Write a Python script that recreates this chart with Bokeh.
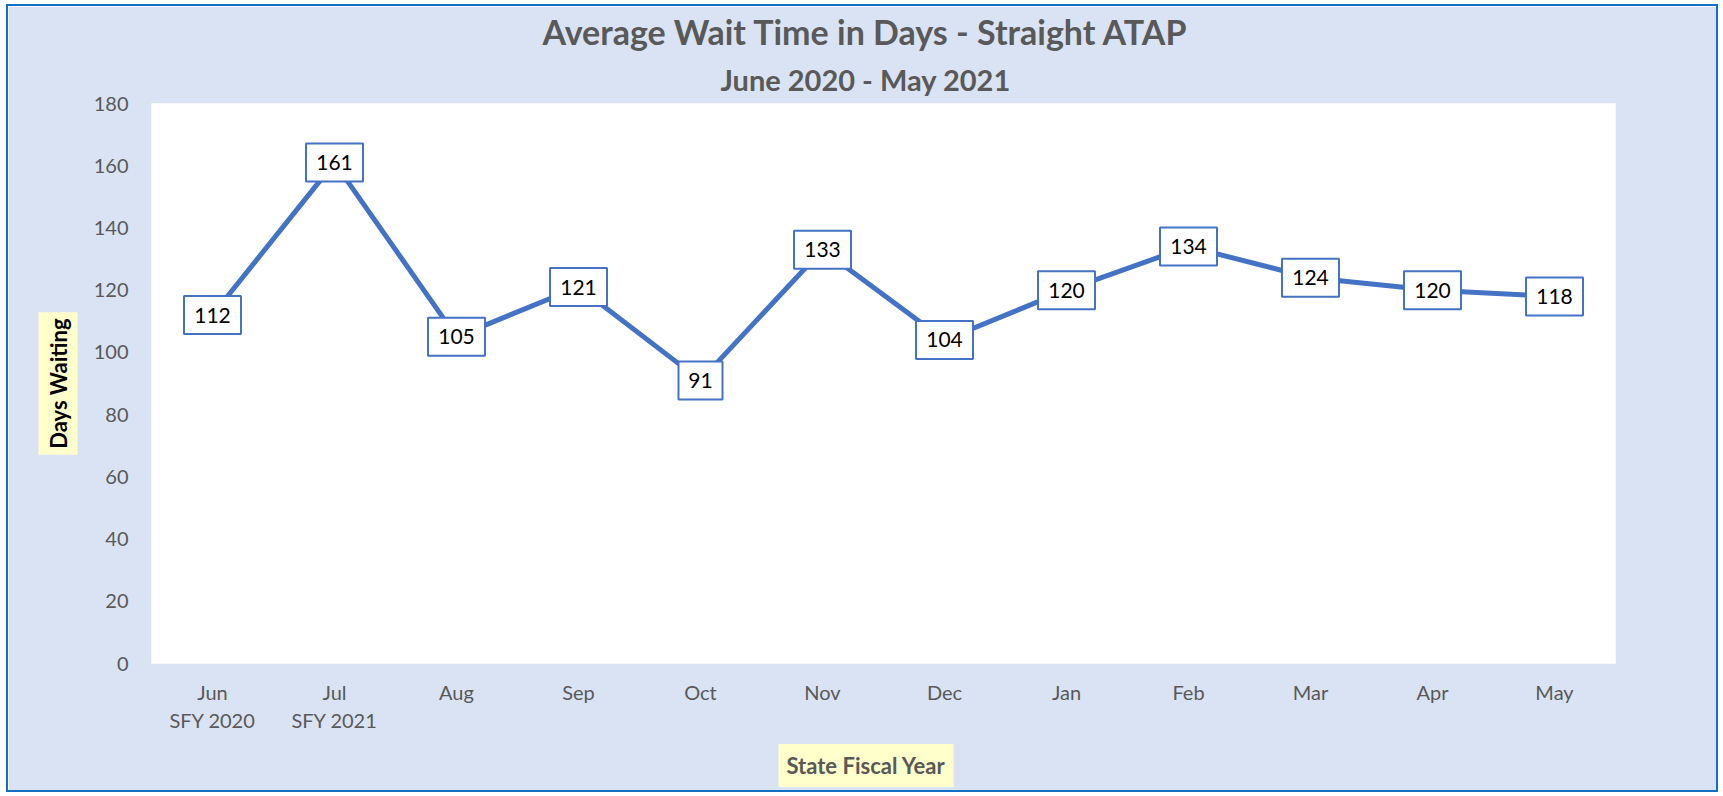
import math
from bokeh.plotting import figure
from bokeh.models import ColumnDataSource, Title, FactorRange, Range1d, FixedTicker
from bokeh.core.properties import value
from bokeh.embed import file_html
from bokeh.resources import INLINE

months = ["Jun", "Jul", "Aug", "Sep", "Oct", "Nov", "Dec", "Jan", "Feb", "Mar", "Apr", "May"]
fiscal_years = ["SFY 2020", "SFY 2021", "", "", "", "", "", "", "", "", "", ""]
wait_days = [112, 161, 105, 121, 91, 133, 104, 120, 134, 124, 120, 118]
y_ticks = [0, 20, 40, 60, 80, 100, 120, 140, 160, 180]

title_text = "Average Wait Time in Days - Straight ATAP"
subtitle_text = "June 2020 - May 2021"
y_title = "Days Waiting"
x_title = "State Fiscal Year"

factors = [m + ("\n" + fy if fy else "") for m, fy in zip(months, fiscal_years)]

BG = "#DAE3F3"
LINE = "#4472C4"
GREY = "#595959"
FONT = "Lato"

label_text = [str(v) for v in wait_days]
source = ColumnDataSource(data=dict(
    x=factors,
    y=wait_days,
    label=label_text,
    box_w=[18 + 13 * len(t) for t in label_text],
))

p = figure(
    width=1712, height=788, title=None,
    x_range=FactorRange(factors=factors, range_padding=0),
    y_range=Range1d(0, 180),
    output_backend="svg", toolbar_location=None,
    min_border_left=143, min_border_right=105, min_border_top=97, min_border_bottom=131,
)
p.styles = {"border": "2px solid #1170C4", "margin": "4px 0px 0px 6px"}
p.background_fill_color = "white"
p.border_fill_color = BG
p.outline_line_color = None
p.xgrid.grid_line_color = None
p.ygrid.grid_line_color = None

p.yaxis.ticker = FixedTicker(ticks=y_ticks)
for ax in (p.xaxis[0], p.yaxis[0]):
    ax.axis_line_color = None
    ax.major_tick_line_color = None
    ax.minor_tick_line_color = None
    ax.major_label_text_font = FONT
    ax.major_label_text_font_size = "20px"
    ax.major_label_text_color = GREY
p.yaxis.major_label_standoff = 17
p.xaxis.major_label_standoff = 10

p.line("x", "y", source=source, line_color=LINE, line_width=5)

p.rect("x", "y", width="box_w", height=38, width_units="screen", height_units="screen",
       source=source, fill_color="white", line_color=LINE, line_width=2)
p.text("x", "y", text="label", source=source, text_align="center", text_baseline="middle",
       text_font=value(FONT), text_font_size="21px", text_color="black")

# Titles (subtitle first: closest to the frame)
p.add_layout(Title(text=subtitle_text, align="left", offset=569, standoff=13,
                   text_font=FONT, text_font_style="bold", text_font_size="29px",
                   text_color=GREY), "above")
p.add_layout(Title(text=title_text, align="left", offset=391, standoff=4,
                   text_font=FONT, text_font_style="bold", text_font_size="34px",
                   text_color=GREY), "above")
p.add_layout(Title(text=y_title, align="center", standoff=26,
                   text_font=FONT, text_font_style="bold", text_font_size="22px",
                   text_color="black", background_fill_color="#FFFFCC", padding=6), "left")
p.add_layout(Title(text=x_title, align="left", offset=627, standoff=13,
                   text_font=FONT, text_font_style="bold", text_font_size="22px",
                   text_color=GREY, background_fill_color="#FFFFCC", padding=8), "below")

open("out.html", "w").write(file_html(p, INLINE))
